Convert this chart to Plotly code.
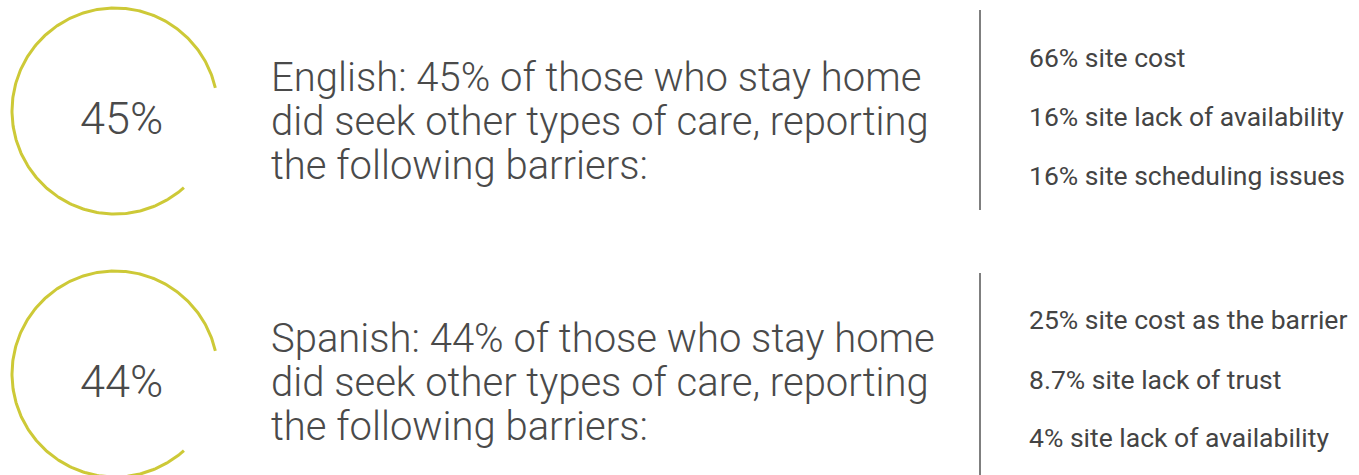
import numpy as np
import plotly.graph_objects as go

# ---- data ----
groups = ["English", "Spanish"]
headline_pct = ["45%", "44%"]
description_lines = [
    ["English: 45% of those who stay home",
     "did seek other types of care, reporting",
     "the following barriers:"],
    ["Spanish: 44% of those who stay home",
     "did seek other types of care, reporting",
     "the following barriers:"],
]
barrier_values = [["66%", "16%", "16%"], ["25%", "8.7%", "4%"]]
barrier_labels = [
    ["site cost", "site lack of availability", "site scheduling issues"],
    ["site cost as the barrier", "site lack of trust", "site lack of availability"],
]

# ---- layout constants (pixel space) ----
W, H = 1359, 475
row_center_y = [111, 374]
circle_cx, circle_r = 115, 103
arc_start_deg, arc_end_deg = 13, -48 + 360   # counter-clockwise from start to end
desc_x = 269
desc_line_y = [[77, 121, 165], [338, 382, 426]]
divider_x = 980
divider_span = [(10, 210), (273, 475)]
list_x = 1027
list_y = [[57, 116, 175], [319, 379, 437]]

ARC_COLOR = "#cdc937"
TEXT_DARK = "#4a4a4a"
TEXT_LIST = "#444444"

fig = go.Figure()

for i, g in enumerate(groups):
    cy = row_center_y[i]
    t = np.radians(np.linspace(arc_start_deg, arc_end_deg, 300))
    fig.add_trace(go.Scatter(
        x=circle_cx + circle_r * np.cos(t),
        y=cy - circle_r * np.sin(t),
        mode="lines", line=dict(color=ARC_COLOR, width=3),
        hoverinfo="skip", showlegend=False,
    ))
    fig.add_annotation(x=circle_cx + 6, y=cy + 7, text=headline_pct[i],
                       showarrow=False, xanchor="center", yanchor="middle",
                       font=dict(family="Roboto", size=45, color=TEXT_DARK, weight=300))
    for line, yy in zip(description_lines[i], desc_line_y[i]):
        fig.add_annotation(x=desc_x, y=yy, text=line,
                           showarrow=False, xanchor="left", yanchor="middle", align="left",
                           font=dict(family="Roboto", size=40, color=TEXT_DARK, weight=300))
    y0, y1 = divider_span[i]
    fig.add_shape(type="line", x0=divider_x, x1=divider_x, y0=y0, y1=y1,
                  xref="x", yref="y", line=dict(color="#555555", width=1.5))
    for v, lab, yy in zip(barrier_values[i], barrier_labels[i], list_y[i]):
        fig.add_annotation(x=list_x, y=yy, text=f"{v} {lab}",
                           showarrow=False, xanchor="left", yanchor="middle",
                           font=dict(family="Roboto", size=26.5, color=TEXT_LIST))

fig.update_xaxes(range=[0, W], visible=False, fixedrange=True)
fig.update_yaxes(range=[H, 0], visible=False, fixedrange=True)
fig.update_layout(
    width=W, height=H,
    margin=dict(l=0, r=0, t=0, b=0),
    paper_bgcolor="white", plot_bgcolor="white",
    showlegend=False,
)

fig.write_html("out.html", config={"displayModeBar": False},
               post_script="document.body.style.margin='0';document.body.style.overflow='hidden';")
